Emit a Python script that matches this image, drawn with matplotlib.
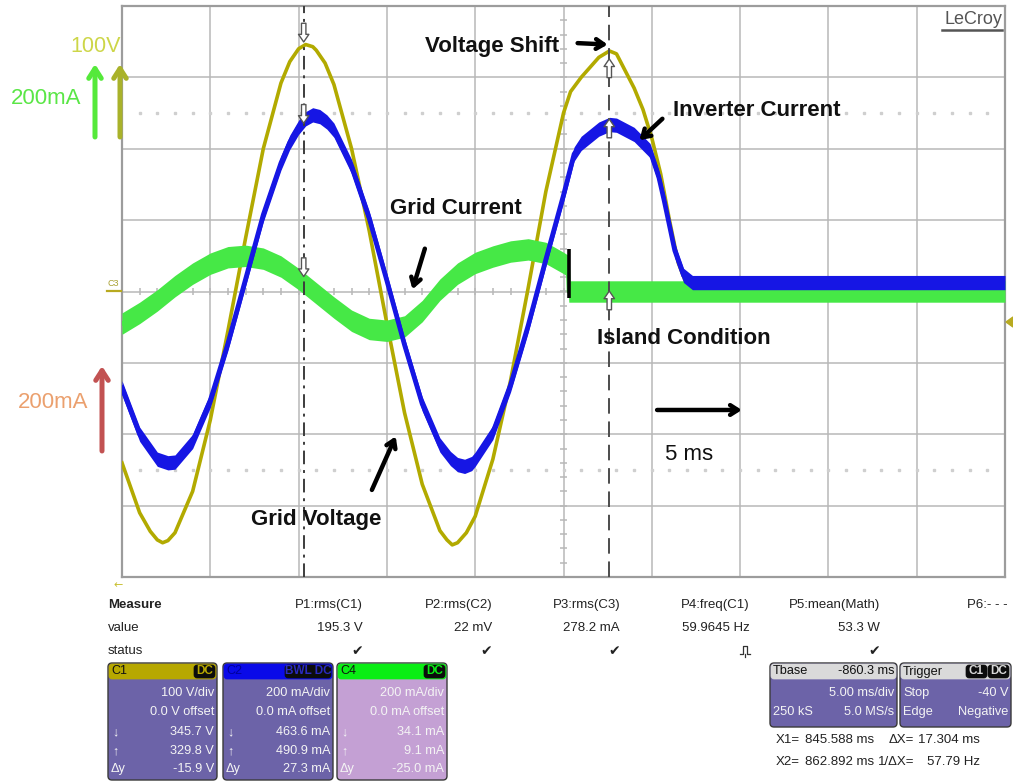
import numpy as np
import matplotlib
matplotlib.use('Agg')
import matplotlib.pyplot as plt
from matplotlib.patches import FancyBboxPatch, Polygon

plt.rcParams['font.family'] = ['Liberation Sans', 'DejaVu Sans']

# ------------------------------------------------------------------ data
MS_PER_DIV = 5.0
V_PER_DIV = 100.0
MA_PER_DIV = 200.0
TBASE_CENTER_MS = 860.3

# grid voltage (C1), time in ms from left edge of screen, volts
volt_t = [0, 1, 1.6, 2, 2.3, 2.6, 3, 4, 5, 6, 7, 8, 9, 9.5, 10, 10.4, 10.8, 11, 11.5,
          12, 13, 14, 15, 16, 17, 18, 18.4, 18.7, 19, 19.5, 20, 21, 22, 23, 24, 25,
          25.4, 26, 27, 27.6, 28, 29, 29.5, 30, 30.5, 31, 31.5, 32, 33, 50]
volt_v = [-240, -310, -336, -348, -352, -349, -338, -280, -180, -55, 75, 200, 292, 322,
          340, 346, 343, 338, 320, 290, 200, 85, -45, -170, -270, -335, -348, -355,
          -352, -338, -315, -235, -125, 5, 140, 250, 280, 300, 328, 337, 333, 285, 255,
          215, 165, 100, 40, 8, 0, 0]

# inverter current (C2), mA
inv_t = [0, 1, 2, 2.6, 3, 4, 5, 6, 7, 8, 9, 9.5, 10, 10.4, 10.8, 11.2, 11.6, 12, 13,
         14, 15, 16, 17, 18, 18.6, 19, 19.4, 19.8, 20, 21, 22, 23, 24, 25, 25.6, 26,
         27, 27.6, 28, 29, 29.9, 30.4, 30.7, 31.3, 31.8, 32.3, 50]
inv_ma = [-270, -400, -470, -480, -478, -420, -305, -145, 35, 215, 360, 418, 460, 484,
          495, 490, 475, 452, 350, 205, 30, -150, -315, -430, -468, -485, -490, -482,
          -470, -395, -262, -95, 90, 270, 385, 415, 455, 468, 466, 440, 395, 320, 255,
          115, 45, 25, 25]

# grid current (C4), mA
grid_t = [0, 1, 2, 3, 4, 5, 6, 7, 8, 9, 10, 11, 12, 13, 14, 15, 16, 17, 18, 19, 20,
          21, 22, 23, 24, 25, 25.25, 25.3, 50]
grid_ma = [-90, -60, -25, 15, 50, 78, 96, 100, 92, 70, 35, -5, -45, -82, -105, -110,
           -98, -55, 5, 50, 80, 98, 112, 118, 108, 80, 72, 0, 0]

# cursors (absolute ms) and cursor read-outs
cursor_ms = [845.588, 862.892]
cursor_volt = [345.7, 329.8]
cursor_inv = [463.6, 490.9]
cursor_grid = [34.1, 9.1]

# island event
island_ms = 25.3
island_bar_ma = [120, -17]

# measurement table
measure_names = ['P1:rms(C1)', 'P2:rms(C2)', 'P3:rms(C3)', 'P4:freq(C1)',
                 'P5:mean(Math)', 'P6:- - -']
measure_values = ['195.3 V', '22 mV', '278.2 mA', '59.9645 Hz', '53.3 W', '']
measure_status = ['check', 'check', 'check', 'pulse', 'check', '']

chan_names = ['C1', 'C2', 'C4']
chan_badges = ['DC', 'BWL DC', 'DC']
chan_scale = ['100 V/div', '200 mA/div', '200 mA/div']
chan_offset = ['0.0 V offset', '0.0 mA offset', '0.0 mA offset']
chan_c1 = ['345.7 V', '463.6 mA', '34.1 mA']
chan_c2 = ['329.8 V', '490.9 mA', '9.1 mA']
chan_dy = ['-15.9 V', '27.3 mA', '-25.0 mA']

# ------------------------------------------------------------------ figure
W, H = 1013, 782
fig = plt.figure(figsize=(W / 100, H / 100), dpi=100)
fig.patch.set_facecolor('white')

ax = fig.add_axes([122 / W, 1 - 577 / H, 883 / W, 571 / H])
ax.set_xlim(0, 10 * MS_PER_DIV)
ax.set_ylim(-4, 4)
ax.set_xticks([])
ax.set_yticks([])
for s in ax.spines.values():
    s.set_color('#9c9c9c')
    s.set_linewidth(1.6)

gcol = '#b8b8b8'
for xv in np.arange(MS_PER_DIV, 10 * MS_PER_DIV, MS_PER_DIV):
    ax.axvline(xv, color=gcol, lw=1.1, zorder=0)
for yv in range(-3, 4):
    ax.axhline(yv, color=gcol, lw=1.1, zorder=0)
# dotted lines at +-2.5 div
dx = np.arange(1, 50, 1.0)
for yv in (2.5, -2.5):
    ax.plot(dx, np.full_like(dx, yv), ls='none', marker='s', ms=1.6,
            color='#cfcfcf', zorder=0)
# center-line ticks
ax.vlines(np.arange(0, 50.01, 1.0), -0.05, 0.05, color=gcol, lw=1.1, zorder=0)
ax.hlines(np.arange(-4, 4.01, 0.2), 24.82, 25.18, color=gcol, lw=1.1, zorder=0)

# traces
vt = np.array(volt_t)
vv = np.array(volt_v) / V_PER_DIV
ax.plot(vt, vv, color='#b2aa00', lw=2.6, zorder=3, solid_joinstyle='round')

gt = np.array(grid_t)
gv = np.array(grid_ma) / MA_PER_DIV
ax.fill_between(gt, gv - 0.15, gv + 0.15, color='#46e846', lw=0, zorder=4)
ax.plot(gt, gv, color='#46e846', lw=3.0, zorder=4)

it = np.array(inv_t)
iv = np.array(inv_ma) / MA_PER_DIV
ax.fill_between(it, iv - 0.1, iv + 0.1, color='#1616e4', lw=0, zorder=5)
ax.plot(it, iv, color='#1616e4', lw=3.4, zorder=5, solid_joinstyle='round')

# island bar
ax.plot([island_ms, island_ms], np.array(island_bar_ma) / MA_PER_DIV,
        color='black', lw=2.6, zorder=7, solid_capstyle='butt')

# cursors
screen_start = TBASE_CENTER_MS - 5 * MS_PER_DIV
cx = [c - screen_start for c in cursor_ms]
ax.axvline(cx[0], color='#3c3c3c', lw=1.4, ls=(0, (7, 3, 1.5, 3)), zorder=6)
ax.axvline(cx[1], color='#4c4c4c', lw=1.4, ls=(0, (8, 4)), zorder=6)

arr_style = 'simple,head_length=0.55,head_width=0.75,tail_width=0.32'
for i, vals in enumerate([[cursor_volt[0] / V_PER_DIV, cursor_inv[0] / MA_PER_DIV,
                           cursor_grid[0] / MA_PER_DIV],
                          [cursor_volt[1] / V_PER_DIV, cursor_inv[1] / MA_PER_DIV,
                           cursor_grid[1] / MA_PER_DIV]]):
    sign = 1 if i == 0 else -1
    for tip in vals:
        ax.annotate('', xy=(cx[i], tip), xytext=(cx[i], tip + sign * 0.34),
                    arrowprops=dict(arrowstyle=arr_style, fc='white', ec='#555555',
                                    lw=1.0), zorder=8)

# annotations
tk = dict(fontsize=16, fontweight='bold', color='#111111', va='center', ha='left',
          zorder=9)
ax.text(17.15, 3.43, 'Voltage Shift', **tk)
ax.text(31.2, 2.53, 'Inverter Current', **tk)
ax.text(15.15, 1.16, 'Grid Current', **tk)
ax.text(26.9, -0.66, 'Island Condition', **tk)
ax.text(7.3, -3.2, 'Grid Voltage', **tk)
ax.text(30.75, -2.29, '5 ms', fontsize=16, color='#111111', va='center', ha='left',
        zorder=9)

ak = dict(arrowstyle='->,head_length=0.55,head_width=0.35', color='black', lw=3.2,
          shrinkA=0, shrinkB=0)
ax.annotate('', xy=(27.5, 3.46), xytext=(25.8, 3.48), arrowprops=ak, zorder=9)
ax.annotate('', xy=(29.3, 2.12), xytext=(30.6, 2.42), arrowprops=ak, zorder=9)
ax.annotate('', xy=(16.45, 0.03), xytext=(17.15, 0.6), arrowprops=ak, zorder=9)
ax.annotate('', xy=(15.5, -2.03), xytext=(14.15, -2.78), arrowprops=ak, zorder=9)
ax.annotate('', xy=(35.1, -1.66), xytext=(30.3, -1.66), arrowprops=ak, zorder=9)

# ------------------------------------------------------------------ overlay (pixel coords)
ov = fig.add_axes([0, 0, 1, 1], zorder=10)
ov.set_xlim(0, W)
ov.set_ylim(H, 0)
ov.axis('off')
ov.patch.set_alpha(0)

# left scale labels
ov.text(121, 47, '100V', fontsize=15.5, color='#cdd648', ha='right', va='center')
ov.text(11, 98, '200mA', fontsize=16, color='#5ae646', ha='left', va='center')
ov.text(18, 402, '200mA', fontsize=16, color='#eba06e', ha='left', va='center')
lak = dict(arrowstyle='->,head_length=0.7,head_width=0.45', lw=3.6, shrinkA=0,
           shrinkB=0)
ov.annotate('', xy=(95, 64), xytext=(95, 137), arrowprops=dict(color='#55e93a', **lak))
ov.annotate('', xy=(120, 64), xytext=(120, 137), arrowprops=dict(color='#a9b22a', **lak))
ov.annotate('', xy=(102, 366), xytext=(102, 451), arrowprops=dict(color='#c25252', **lak))

# C3 marker, right marker, bottom-left marker
ov.text(107, 283, 'C3', fontsize=6.5, color='#a8a030', ha='left', va='center')
ov.plot([107, 121], [291, 291], color='#b8aa20', lw=1.6)
ov.add_patch(Polygon([[1006, 322], [1013, 317], [1013, 327]], closed=True,
                     color='#b8aa20'))
ov.text(118, 585, '\u2190', fontsize=8, color='#c8c030', ha='center', va='center',
        family=['DejaVu Sans'])

# LeCroy logo
ov.text(1002, 20, 'LeCroy', fontsize=13, color='#555555', ha='right', va='center')
ov.plot([942, 1002], [29.5, 29.5], color='#555555', lw=1.8)

# measure table
tf = dict(fontsize=9.5, color='#222222', va='center')
ov.text(108, 605, 'Measure', fontweight='bold', ha='left', **tf)
ov.text(108, 628, 'value', ha='left', **tf)
ov.text(108, 651, 'status', ha='left', **tf)
col_right = [363, 492, 620, 750, 880, 1008]
for xr, nm, val, st in zip(col_right, measure_names, measure_values, measure_status):
    ov.text(xr, 605, nm, ha='right', **tf)
    if val:
        ov.text(xr, 628, val, ha='right', **tf)
    if st == 'check':
        ov.text(xr - 6, 651, '\u2714', ha='center', fontsize=10, color='#222222',
                va='center', family=['DejaVu Sans'])
    elif st == 'pulse':
        px0 = xr - 10
        ov.plot([px0, px0 + 3, px0 + 3, px0 + 7, px0 + 7, px0 + 10],
                [654, 654, 646, 646, 654, 654], color='#333333', lw=0.9)
        ov.plot([px0 + 5, px0 + 5], [654, 657], color='#333333', lw=0.9)


def rbox(x0, y0, x1, y1, fc, ec='#3a3a3a', lw=1.0, r=4):
    p = FancyBboxPatch((x0, y0), x1 - x0, y1 - y0,
                       boxstyle=f'round,pad=0,rounding_size={r}',
                       fc=fc, ec=ec, lw=lw)
    ov.add_patch(p)


def badge(x0, x1, yc, txt, tc):
    rbox(x0, yc - 6.5, x1, yc + 6.5, '#0c0c0c', ec='#0c0c0c', lw=0.5, r=3)
    ov.text((x0 + x1) / 2, yc, txt, fontsize=8.5, color=tc, ha='center', va='center',
            fontweight='bold')


body_purple = '#6c63a8'
header_cols = ['#b7a800', '#0a0ae8', '#0aee14']
body_cols = [body_purple, body_purple, '#c4a0d4']
hdr_text_cols = ['#111111', '#00009a', '#111111']
badge_text_cols = ['#b7a800', '#2a2ac0', '#0aee14']
badge_w = [21, 46, 21]
box_x = [(108, 217), (223, 333), (337, 447)]
rows_y = [693, 712, 732, 751, 769]
for i in range(3):
    x0, x1 = box_x[i]
    rbox(x0, 663, x1, 780, body_cols[i])
    rbox(x0 + 1, 664, x1 - 1, 679, header_cols[i], ec=header_cols[i], lw=0.5, r=3)
    ov.text(x0 + 3, 671.5, chan_names[i], fontsize=9, color=hdr_text_cols[i],
            ha='left', va='center')
    badge(x1 - 2 - badge_w[i], x1 - 2, 671.5, chan_badges[i], badge_text_cols[i])
    tcol = '#f4f4f4'
    lines = [chan_scale[i], chan_offset[i], chan_c1[i], chan_c2[i], chan_dy[i]]
    for yy, ln in zip(rows_y, lines):
        ov.text(x1 - 3, yy, ln, fontsize=9.2, color=tcol, ha='right', va='center')
    ov.text(x0 + 4, rows_y[2], '\u2193', fontsize=9, color=tcol, ha='left', va='center')
    ov.text(x0 + 4, rows_y[3], '\u2191', fontsize=9, color=tcol, ha='left', va='center')
    ov.text(x0 + 3, rows_y[4], '\u0394y', fontsize=9.2, color=tcol, ha='left',
            va='center')

# Tbase box
rbox(770, 663, 897, 727, body_purple)
rbox(771, 664, 896, 679, '#dadada', ec='#dadada', lw=0.5, r=3)
ov.text(773, 671.5, 'Tbase', fontsize=9.2, color='#111111', ha='left', va='center')
ov.text(894, 671.5, f'-{TBASE_CENTER_MS:.1f} ms', fontsize=9.2, color='#111111',
        ha='right', va='center')
ov.text(894, 693, f'{MS_PER_DIV:.2f} ms/div', fontsize=9.2, color='#f4f4f4',
        ha='right', va='center')
ov.text(773, 712, '250 kS', fontsize=9.2, color='#f4f4f4', ha='left', va='center')
ov.text(894, 712, '5.0 MS/s', fontsize=9.2, color='#f4f4f4', ha='right', va='center')

# Trigger box
rbox(900, 663, 1011, 727, body_purple)
rbox(901, 664, 1010, 679, '#dadada', ec='#dadada', lw=0.5, r=3)
ov.text(903, 671.5, 'Trigger', fontsize=9.2, color='#111111', ha='left', va='center')
badge(966, 987, 671.5, 'C1', '#d8d8d8')
badge(988, 1009, 671.5, 'DC', '#d8d8d8')
ov.text(903, 693, 'Stop', fontsize=9.2, color='#f4f4f4', ha='left', va='center')
ov.text(1008, 693, '-40 V', fontsize=9.2, color='#f4f4f4', ha='right', va='center')
ov.text(903, 712, 'Edge', fontsize=9.2, color='#f4f4f4', ha='left', va='center')
ov.text(1008, 712, 'Negative', fontsize=9.2, color='#f4f4f4', ha='right', va='center')

# cursor readouts
dX = cursor_ms[1] - cursor_ms[0]
cf = dict(fontsize=9.5, color='#222222', va='center')
ov.text(776, 740, 'X1=', ha='left', **cf)
ov.text(805, 740, f'{cursor_ms[0]:.3f} ms', ha='left', **cf)
ov.text(914, 740, '\u0394X=', ha='right', **cf)
ov.text(918, 740, f'{dX:.3f} ms', ha='left', **cf)
ov.text(776, 762, 'X2=', ha='left', **cf)
ov.text(805, 762, f'{cursor_ms[1]:.3f} ms', ha='left', **cf)
ov.text(914, 762, '1/\u0394X=', ha='right', **cf)
ov.text(980, 762, f'{1000.0 / dX:.2f} Hz', ha='right', **cf)

fig.savefig('out.png', dpi=100)
